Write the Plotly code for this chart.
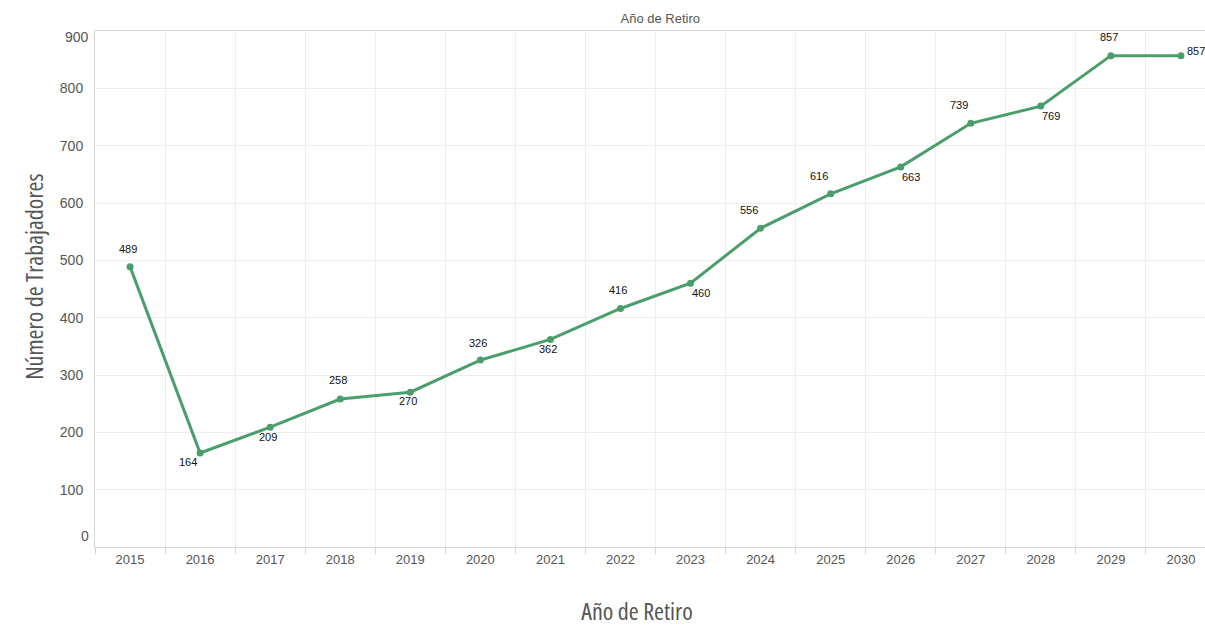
import plotly.graph_objects as go

# Data
years = ["2015", "2016", "2017", "2018", "2019", "2020", "2021", "2022",
         "2023", "2024", "2025", "2026", "2027", "2028", "2029", "2030"]
workers = [489, 164, 209, 258, 270, 326, 362, 416,
           460, 556, 616, 663, 739, 769, 857, 857]
y_ticks = [0, 100, 200, 300, 400, 500, 600, 700, 800, 900]

# pixel offsets of the value labels (style, not data)
label_dx = [-2, -12, -2, -2, -2, -2, -2, -2, 10, -12, -12, 10, -12, 10, -2, 15]
label_dy = [18, -9, -10, 19, -9, 17, -10, 18, -10, 18, 18, -10, 18, -10, 19, 5]

green = "rgb(74,158,108)"
base = "Liberation Sans, Arial, sans-serif"
condensed = "Open Sans, Liberation Sans Narrow, sans-serif"

fig = go.Figure()
fig.add_trace(go.Scatter(
    x=years, y=workers,
    mode="lines+markers",
    line=dict(color=green, width=3),
    marker=dict(color=green, size=7),
    hoverinfo="x+y",
    showlegend=False,
))

# value labels; category axis -> annotation x is the category index
for i, (v, dx, dy) in enumerate(zip(workers, label_dx, label_dy)):
    fig.add_annotation(x=i, y=v, xref="x", yref="y", text=str(v), showarrow=False,
                       xshift=dx, yshift=dy,
                       font=dict(family=base, size=11, color="#111"))

# the end tick labels sit inside the plot in the reference
for v, dy in ((y_ticks[0], 11), (y_ticks[-1], -6)):
    fig.add_annotation(x=0, y=v, xref="paper", yref="y", text=str(v), showarrow=False,
                       xanchor="right", xshift=-4, yshift=dy,
                       font=dict(family=base, size=14, color="#555"))

# axis titles
fig.add_annotation(x=0.4835, y=0, xref="paper", yref="paper", text="Año de Retiro",
                   showarrow=False, yanchor="middle", yshift=-63, borderpad=0,
                   font=dict(family=condensed, size=24, color="#555"))
fig.add_annotation(x=0, y=0.523, xref="paper", yref="paper", text="Número de Trabajadores",
                   showarrow=False, textangle=-90, xanchor="center", xshift=-62,
                   font=dict(family=condensed, size=24, color="#555"))

fig.update_layout(
    width=1216, height=627,
    margin=dict(l=95, r=0, t=31, b=80, autoexpand=False),
    paper_bgcolor="white", plot_bgcolor="white",
    font=dict(family=base, color="#555"),
    title=dict(text="Año de Retiro", x=0.543, xanchor="center", y=0.97, yanchor="middle",
               font=dict(size=13, color="#555")),
)

fig.update_xaxes(
    type="category", tickson="boundaries", range=[-0.5, 15.5],
    automargin=False,
    showgrid=True, gridcolor="#eeeeee", gridwidth=1,
    showline=True, linecolor="#d6d6d6", linewidth=1, mirror=True,
    ticks="outside", ticklen=6, tickcolor="#d6d6d6",
    tickfont=dict(size=13, color="#555"),
)
fig.update_yaxes(
    range=[y_ticks[0], y_ticks[-1]], tickvals=y_ticks[1:-1], automargin=False,
    showgrid=True, gridcolor="#eeeeee", gridwidth=1,
    zeroline=False,
    showline=True, linecolor="#d6d6d6", linewidth=1,
    ticks="outside", ticklen=8, tickcolor="rgba(0,0,0,0)",
    tickfont=dict(size=14, color="#555"),
)

# no page margin, and squeeze the axis titles like the condensed face in the reference
post = """
document.body.style.margin = '0';
document.body.style.overflow = 'hidden';
document.querySelectorAll('.annotation-text').forEach(function(t){
  if (t.style.fontSize === '24px') { t.style.fontStretch = '75%'; }
});
"""

fig.write_html("out.html", post_script=post, config={"displayModeBar": False})
